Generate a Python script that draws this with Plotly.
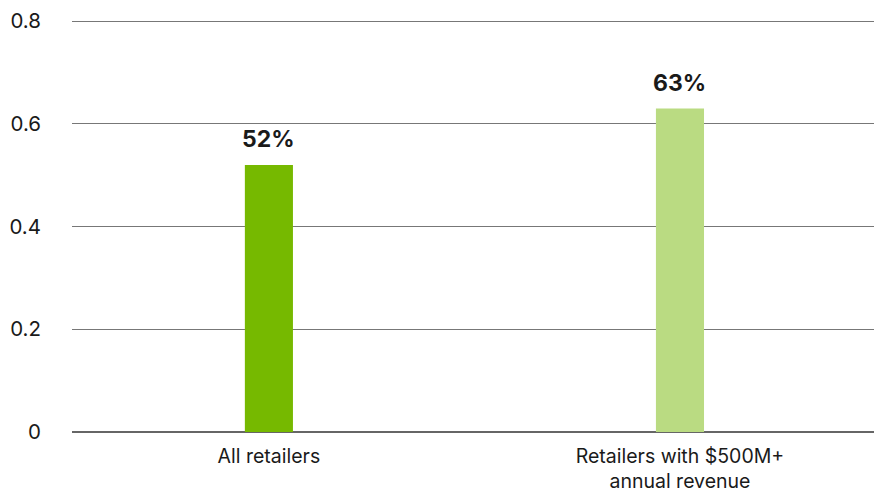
import plotly.graph_objects as go

# Share of retailers (fraction)
categories = ["All retailers", "Retailers with $500M+<br>annual revenue"]
shares = [0.52, 0.63]
bar_colors = ["#76b900", "#badb82"]
y_ticks = [0, 0.2, 0.4, 0.6, 0.8]
y_tick_text = ["0", "0.2", "0.4", "0.6", "0.8"]

FONT = "Inter, Roboto, sans-serif"
Y_MAX = 0.8

fig = go.Figure(
    go.Bar(
        x=[0, 1],
        y=shares,
        width=0.117,
        marker=dict(color=bar_colors, line=dict(width=0)),
        hoverinfo="skip",
    )
)

# Percentage labels above each bar
for i, v in enumerate(shares):
    fig.add_annotation(
        x=i, y=v, text=f"<b>{round(v * 100)}%</b>",
        showarrow=False, yanchor="bottom", yshift=10,
        font=dict(family=FONT, size=23, color="#1a1a1a"),
    )

fig.update_layout(
    width=875, height=494,
    margin=dict(l=72, r=1, t=20, b=62),
    paper_bgcolor="white", plot_bgcolor="white",
    showlegend=False,
    font=dict(family=FONT, color="#1a1a1a"),
    xaxis=dict(
        range=[-0.479, 1.472],
        tickmode="array", tickvals=[0, 1], ticktext=categories,
        tickfont=dict(size=19.5, color="#1a1a1a"),
        showgrid=False, zeroline=False, showline=False, ticks="",
        ticklabelstandoff=10,
        automargin=False,
        fixedrange=True,
    ),
    yaxis=dict(
        # a hair above the top tick so its gridline is still drawn
        range=[0, Y_MAX * 1.003],
        tickmode="array", tickvals=y_ticks, ticktext=y_tick_text,
        tickfont=dict(size=20.5, color="#1a1a1a"),
        showgrid=True, gridcolor="#777777", gridwidth=1,
        zeroline=True, zerolinecolor="#666666", zerolinewidth=2,
        showline=False, ticks="",
        ticklabelstandoff=30,
        automargin=False,
        fixedrange=True,
    ),
)

fig.write_html("out.html")
